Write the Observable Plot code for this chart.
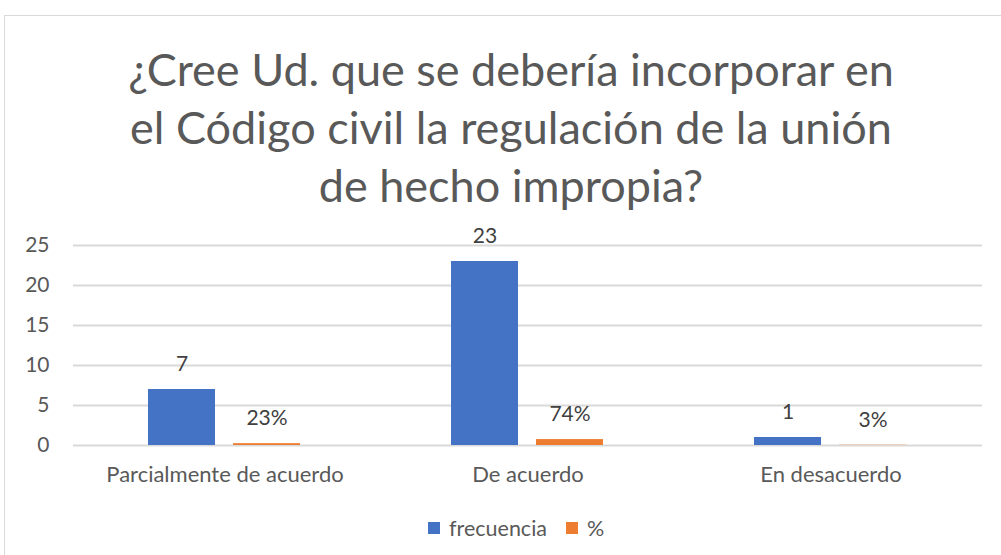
<!DOCTYPE html>
<html>
<head>
<meta charset="utf-8">
<script src="https://cdn.jsdelivr.net/npm/d3@7"></script>
<script src="https://cdn.jsdelivr.net/npm/@observablehq/plot@0.6"></script>
<style>
  body { margin: 0; background: #fff; font-family: Lato, "Open Sans", sans-serif; }
  #wrap { position: relative; width: 1001px; height: 555px; overflow: hidden; }
  #frame { position: absolute; left: 4px; top: 15px; width: 1010px; height: 560px; border: 1px solid #d9d9d9; box-sizing: border-box; }
  #title { position: absolute; left: 4px; width: 1014px; top: 40px; text-align: center; color: #595959; font-size: 45px; line-height: 58px; }
  #chart { position: absolute; left: 0; top: 0; }
  #legend { position: absolute; top: 515px; left: 428px; display: flex; align-items: center; color: #595959; font-size: 21.5px; }
  #legend .sw { width: 12px; height: 12px; display: inline-block; margin-right: 9px; }
</style>
</head>
<body>
<div id="wrap">
  <div id="frame"></div>
  <div id="title">¿Cree Ud. que se debería incorporar en<br>el Código civil la regulación de la unión<br>de hecho impropia?</div>
  <div id="chart"></div>
  <div id="legend"></div>
</div>
<script>
const categories = ["Parcialmente de acuerdo", "De acuerdo", "En desacuerdo"];
const series = ["frecuencia", "%"];
const frecuencia = [7, 23, 1];
const porcentaje = [0.23, 0.74, 0.03];
const colors = ["#4472C4", "#ED7D31"];
const yTicks = [0, 5, 10, 15, 20, 25];

const data = [];
categories.forEach((c, i) => {
  data.push({cat: c, series: series[0], value: frecuencia[i], label: String(frecuencia[i])});
  data.push({cat: c, series: series[1], value: porcentaje[i], label: Math.round(porcentaje[i] * 100) + "%"});
});

const plot = Plot.plot({
  width: 1001,
  height: 500,
  marginTop: 245,
  marginBottom: 55,
  marginLeft: 72,
  marginRight: 19,
  style: {fontFamily: "Lato, 'Open Sans', sans-serif", fontSize: "21px", color: "#595959", background: "transparent", overflow: "visible"},
  fx: {domain: categories, padding: 0, label: null},
  x: {domain: series, paddingInner: 0.21, paddingOuter: 0.87, axis: null},
  y: {domain: [0, 25], ticks: yTicks, label: null, axis: null},
  color: {domain: series, range: colors},
  marks: [
    Plot.gridY(yTicks, {stroke: "#d9d9d9", strokeOpacity: 1, strokeWidth: 2}),
    Plot.axisY({ticks: yTicks, tickSize: 0, tickPadding: 24, label: null, fontSize: 21, fill: "#595959"}),
    Plot.axisFx({anchor: "bottom", tickSize: 0, tickPadding: 21, label: null, fontSize: 22, fill: "#595959"}),
    Plot.barY(data, {fx: "cat", x: "series", y: "value", fill: "series"}),
    Plot.text(data, {fx: "cat", x: "series", y: "value", text: "label", dy: -25, fill: "#404040", fontSize: 21})
  ]
});
document.getElementById("chart").appendChild(plot);

const legend = document.getElementById("legend");
series.forEach((s, i) => {
  const item = document.createElement("span");
  item.style.display = "flex";
  item.style.alignItems = "center";
  item.style.marginRight = i === 0 ? "19px" : "0";
  item.innerHTML = `<span class="sw" style="background:${colors[i]}"></span>${s}`;
  legend.appendChild(item);
});
</script>
</body>
</html>
